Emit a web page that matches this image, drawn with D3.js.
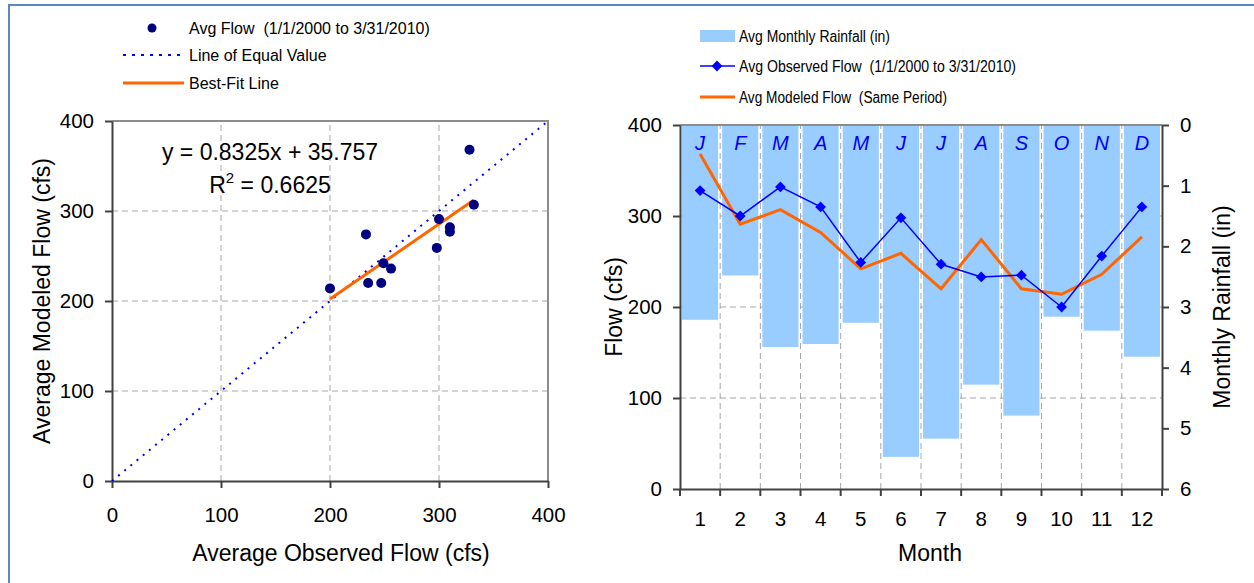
<!DOCTYPE html>
<html lang="en">
<head>
    <meta charset="UTF-8">
    <script src="https://d3js.org/d3.v7.min.js"></script>
    <style>
        body { margin: 0; background: #fff; }
        svg text { font-family: "Liberation Sans", Arial, sans-serif; fill: #000; }
        .grid line { stroke: #a6a6a6; stroke-width: 1; stroke-dasharray: 6 4; }
        .axis path, .axis line { stroke: #404040; stroke-width: 2; }
        .axis text { font-size: 20.5px; }
        .legend text { font-size: 16px; }
        .title { font-size: 23px; }
    </style>
    <title>Flow comparison</title>
</head>
<body>
<svg width="1254" height="583"></svg>
<script>
    // month data shared by both charts
    const months = [1, 2, 3, 4, 5, 6, 7, 8, 9, 10, 11, 12];
    const monthLetters = ['J', 'F', 'M', 'A', 'M', 'J', 'J', 'A', 'S', 'O', 'N', 'D'];
    const observedFlow = [328, 300, 332, 310, 249, 298, 247, 233, 235, 200, 256, 310];
    const modeledFlow = [368, 291, 307, 282, 242, 259, 220, 274, 220, 214, 236, 277];
    const rainfall = [3.21, 2.48, 3.66, 3.61, 3.26, 5.47, 5.17, 4.28, 4.79, 3.16, 3.39, 3.82];

    // best fit from the chart
    const slope = 0.8325, intercept = 35.757, rSquared = 0.6625;

    const flowTicks = [0, 100, 200, 300, 400];
    const rainTicks = [0, 1, 2, 3, 4, 5, 6];

    const svg = d3.select('svg');

    // outer frame (only top and left show)
    svg.append('line').attr('x1', 8).attr('x2', 1254).attr('y1', 5).attr('y2', 5)
        .attr('stroke', '#5b87c2').attr('stroke-width', 2);
    svg.append('line').attr('x1', 9).attr('x2', 9).attr('y1', 4).attr('y2', 583)
        .attr('stroke', '#5b87c2').attr('stroke-width', 2);

    // ---------- left chart: scatter ----------
    const xL = d3.scaleLinear().domain([0, 400]).range([112, 548]);
    const yL = d3.scaleLinear().domain([0, 400]).range([481, 121]);
    const left = svg.append('g');

    const gridL = left.append('g').attr('class', 'grid');
    gridL.selectAll('.h').data(flowTicks.slice(1, 4)).enter().append('line')
        .attr('x1', xL(0)).attr('x2', xL(400)).attr('y1', d => yL(d)).attr('y2', d => yL(d));
    gridL.selectAll('.v').data(flowTicks.slice(1, 4)).enter().append('line')
        .attr('y1', yL(0)).attr('y2', yL(400)).attr('x1', d => xL(d)).attr('x2', d => xL(d));

    // plot border top/right
    left.append('path')
        .attr('d', `M${xL(0)},${yL(400)}H${xL(400)}V${yL(0)}`)
        .attr('fill', 'none').attr('stroke', '#8c8c8c').attr('stroke-width', 2);

    left.append('g').attr('class', 'axis')
        .attr('transform', `translate(0,${yL(0)})`)
        .call(d3.axisBottom(xL).tickValues(flowTicks).tickSize(7).tickPadding(19).tickSizeOuter(0));
    left.append('g').attr('class', 'axis')
        .attr('transform', `translate(${xL(0)},0)`)
        .call(d3.axisLeft(yL).tickValues(flowTicks).tickSize(7).tickPadding(11).tickSizeOuter(0));

    // line of equal value
    left.append('line')
        .attr('x1', xL(0)).attr('y1', yL(0)).attr('x2', xL(400)).attr('y2', yL(400))
        .attr('stroke', '#0000ff').attr('stroke-width', 2).attr('stroke-dasharray', '2 6');

    // best-fit line
    const xMin = d3.min(observedFlow), xMax = d3.max(observedFlow);
    left.append('line')
        .attr('x1', xL(xMin)).attr('y1', yL(slope * xMin + intercept))
        .attr('x2', xL(xMax)).attr('y2', yL(slope * xMax + intercept))
        .attr('stroke', '#ff6600').attr('stroke-width', 3);

    left.selectAll('.pt').data(months).enter().append('circle')
        .attr('cx', (d, i) => xL(observedFlow[i]))
        .attr('cy', (d, i) => yL(modeledFlow[i]))
        .attr('r', 5).attr('fill', '#000080');

    left.append('text').attr('x', 270).attr('y', 160).attr('text-anchor', 'middle')
        .style('font-size', '23px').text(`y = ${slope}x + ${intercept}`);
    const r2 = left.append('text').attr('x', 270).attr('y', 193).attr('text-anchor', 'middle')
        .style('font-size', '23px');
    r2.append('tspan').text('R');
    r2.append('tspan').attr('dy', -10).style('font-size', '15px').text('2');
    r2.append('tspan').attr('dy', 10).text(` = ${rSquared}`);

    left.append('text').attr('class', 'title').attr('transform', 'translate(50,301) rotate(-90)')
        .attr('text-anchor', 'middle').text('Average Modeled Flow (cfs)');
    left.append('text').attr('class', 'title').attr('x', 341).attr('y', 561)
        .attr('text-anchor', 'middle').text('Average Observed Flow (cfs)');

    // left legend
    const legL = left.append('g').attr('class', 'legend');
    legL.append('circle').attr('cx', 152).attr('cy', 28).attr('r', 4.5).attr('fill', '#000080');
    legL.append('text').attr('x', 189).attr('y', 34).style('white-space', 'pre')
        .text('Avg Flow  (1/1/2000 to 3/31/2010)');
    legL.append('line').attr('x1', 123).attr('x2', 182).attr('y1', 55).attr('y2', 55)
        .attr('stroke', '#0000ff').attr('stroke-width', 2).attr('stroke-dasharray', '3 6');
    legL.append('text').attr('x', 189).attr('y', 61).text('Line of Equal Value');
    legL.append('line').attr('x1', 123).attr('x2', 184).attr('y1', 83).attr('y2', 83)
        .attr('stroke', '#ff6600').attr('stroke-width', 3);
    legL.append('text').attr('x', 189).attr('y', 89).text('Best-Fit Line');

    // ---------- right chart: monthly ----------
    const xR = d3.scaleBand().domain(months).range([680, 1162]).paddingInner(0.1).paddingOuter(0.05);
    const yF = d3.scaleLinear().domain([0, 400]).range([489, 125]);
    const yR = d3.scaleLinear().domain([0, 6]).range([125, 489]);
    const right = svg.append('g');
    const step = xR.step(), x0 = xR.range()[0];
    const bounds = d3.range(months.length + 1).map(i => x0 + i * step);
    const mid = d => xR(d) + xR.bandwidth() / 2;

    const gridR = right.append('g').attr('class', 'grid');
    gridR.selectAll('.h').data(flowTicks.slice(1, 4)).enter().append('line')
        .attr('x1', x0).attr('x2', bounds[12]).attr('y1', d => yF(d)).attr('y2', d => yF(d));
    gridR.selectAll('.v').data(bounds.slice(1, 12)).enter().append('line')
        .attr('y1', yF(0)).attr('y2', yF(400)).attr('x1', d => d).attr('x2', d => d);

    right.selectAll('.bar').data(months).enter().append('rect')
        .attr('x', d => xR(d)).attr('width', xR.bandwidth())
        .attr('y', yR(0)).attr('height', (d, i) => yR(rainfall[i]) - yR(0))
        .attr('fill', '#99ccff');

    right.append('line').attr('x1', x0).attr('x2', bounds[12]).attr('y1', yF(400)).attr('y2', yF(400))
        .attr('stroke', '#8c8c8c').attr('stroke-width', 2);

    // axes
    const xAx = right.append('g').attr('class', 'axis').attr('transform', `translate(0,${yF(0)})`);
    xAx.call(d3.axisBottom(xR).tickSize(0).tickPadding(22));
    xAx.selectAll('.bt').data(bounds).enter().append('line')
        .attr('x1', d => d).attr('x2', d => d).attr('y1', 0).attr('y2', 7);
    right.append('g').attr('class', 'axis').attr('transform', `translate(${x0},0)`)
        .call(d3.axisLeft(yF).tickValues(flowTicks).tickSize(7).tickPadding(11).tickSizeOuter(0));
    right.append('g').attr('class', 'axis').attr('transform', `translate(${bounds[12]},0)`)
        .call(d3.axisRight(yR).tickValues(rainTicks).tickFormat(d3.format('d'))
            .tickSize(7).tickPadding(11).tickSizeOuter(0));

    right.selectAll('.ml').data(months).enter().append('text')
        .attr('x', d => mid(d)).attr('y', 150).attr('text-anchor', 'middle')
        .style('font-size', '20px').style('font-style', 'italic').style('fill', '#0000ee')
        .text((d, i) => monthLetters[i]);

    const lineObs = d3.line().x(d => mid(d)).y((d, i) => yF(observedFlow[i]));
    const lineMod = d3.line().x(d => mid(d)).y((d, i) => yF(modeledFlow[i]));
    right.append('path').attr('d', lineMod(months)).attr('fill', 'none')
        .attr('stroke', '#ff6600').attr('stroke-width', 3);
    right.append('path').attr('d', lineObs(months)).attr('fill', 'none')
        .attr('stroke', '#0000ff').attr('stroke-width', 1.5);
    const diamond = d3.symbol(d3.symbolSquare, 58);
    right.selectAll('.dm').data(months).enter().append('path')
        .attr('d', diamond)
        .attr('transform', (d, i) => `translate(${mid(d)},${yF(observedFlow[i])}) rotate(45)`)
        .attr('fill', '#0000ff');

    right.append('text').attr('class', 'title').attr('transform', 'translate(622,307) rotate(-90)')
        .attr('text-anchor', 'middle').text('Flow (cfs)');
    right.append('text').attr('class', 'title').attr('transform', 'translate(1230,307) rotate(-90)')
        .attr('text-anchor', 'middle').text('Monthly Rainfall (in)');
    right.append('text').attr('class', 'title').attr('x', 930).attr('y', 561)
        .attr('text-anchor', 'middle').text('Month');

    // right legend (narrow text, as in the original)
    const legR = right.append('g').attr('class', 'legend');
    legR.append('rect').attr('x', 700).attr('y', 30).attr('width', 35).attr('height', 12).attr('fill', '#99ccff');
    legR.append('text').attr('x', 739).attr('y', 42).attr('textLength', 151).attr('lengthAdjust', 'spacingAndGlyphs')
        .text('Avg Monthly Rainfall (in)');
    legR.append('line').attr('x1', 700).attr('x2', 735).attr('y1', 66).attr('y2', 66)
        .attr('stroke', '#0000ff').attr('stroke-width', 1.5);
    legR.append('path').attr('d', diamond).attr('transform', 'translate(717,66) rotate(45)').attr('fill', '#0000ff');
    legR.append('text').attr('x', 739).attr('y', 72).style('white-space', 'pre')
        .attr('textLength', 277).attr('lengthAdjust', 'spacingAndGlyphs')
        .text('Avg Observed Flow  (1/1/2000 to 3/31/2010)');
    legR.append('line').attr('x1', 700).attr('x2', 735).attr('y1', 97).attr('y2', 97)
        .attr('stroke', '#ff6600').attr('stroke-width', 3);
    legR.append('text').attr('x', 739).attr('y', 103).style('white-space', 'pre')
        .attr('textLength', 208).attr('lengthAdjust', 'spacingAndGlyphs')
        .text('Avg Modeled Flow  (Same Period)');
</script>
</body>
</html>
